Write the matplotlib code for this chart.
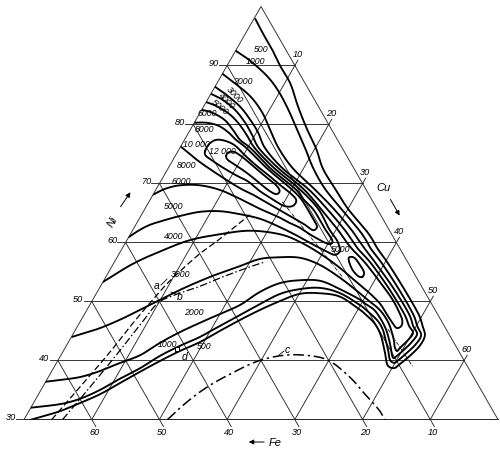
import numpy as np
import matplotlib
matplotlib.use('Agg')
from matplotlib import pyplot as plt
from matplotlib.patches import Polygon

# iso-lines, points given as (Ni %, Cu %), Fe = 100 - Ni - Cu
iso_500 = [(97.9, 0.2), (95.5, 2.5), (92.8, 5.2), (89.9, 7.9), (86.9, 10.9), (83.1, 13.9), (79.2, 17.2),
           (75.9, 20.2), (72.5, 22.9), (69.1, 26.4), (65.7, 30.0), (62.3, 34.2), (60.6, 36.1), (58.9, 37.8),
           (56.4, 40.6), (52.1, 45.1), (47.9, 49.3), (45.9, 50.9), (44.2, 52.1), (42.5, 52.2), (40.8, 51.6),
           (39.4, 50.8), (38.7, 50.3), (39.2, 49.1), (41.1, 47.8), (43.0, 46.5), (44.7, 45.2), (46.4, 43.5),
           (47.9, 41.4), (48.6, 40.3), (50.8, 36.3), (51.4, 33.0), (51.3, 30.1), (50.1, 27.8), (48.6, 25.6),
           (46.9, 23.5), (45.0, 21.4), (43.1, 19.4), (41.6, 17.2), (39.9, 15.1), (38.1, 13.1), (36.2, 11.1),
           (34.3, 9.1), (32.8, 6.9), (31.4, 4.6), (30.4, 2.1), (29.9, 0.9)]
iso_1000 = [(92.5, 0.0), (90.8, 3.0), (88.2, 6.8), (85.7, 9.7), (82.6, 12.7), (79.2, 15.7), (75.9, 18.6),
            (72.5, 21.5), (69.1, 24.9), (65.7, 29.0), (62.3, 33.2), (60.6, 35.1), (58.9, 36.8), (56.4, 39.7),
            (52.1, 44.3), (47.9, 48.5), (45.9, 50.1), (44.3, 51.5), (42.8, 51.5), (41.3, 50.9), (40.1, 50.3),
            (39.6, 49.9), (40.1, 49.0), (41.6, 48.0), (43.3, 46.8), (45.2, 45.4), (46.7, 43.9), (48.2, 41.8),
            (49.4, 39.9), (51.4, 36.0), (52.3, 32.6), (52.1, 29.7), (51.3, 27.2), (49.6, 25.1), (47.7, 23.0),
            (45.9, 21.0), (44.0, 19.0), (42.5, 16.8), (40.8, 14.7), (38.7, 12.8), (36.9, 10.7), (35.0, 8.7),
            (33.5, 6.5), (32.6, 4.0), (32.0, 0.0)]
iso_2000 = [(88.6, 0.0), (87.2, 2.3), (84.8, 6.0), (82.1, 9.1), (79.2, 11.7), (75.9, 14.7), (72.5, 18.5),
            (69.1, 23.3), (65.7, 27.9), (62.3, 32.1), (60.6, 34.0), (58.9, 35.9), (56.4, 38.8), (52.1, 43.6),
            (47.9, 47.9), (45.9, 49.5), (44.5, 50.8), (43.1, 50.7), (41.8, 50.2), (40.8, 49.7), (40.4, 49.4),
            (40.9, 48.9), (42.0, 48.2), (43.6, 47.1), (45.3, 45.8), (47.0, 44.2), (48.6, 42.4), (49.6, 40.6),
            (50.3, 39.5), (52.1, 35.6), (53.5, 32.0), (53.6, 28.9), (53.1, 26.2), (51.6, 24.0), (49.4, 22.2),
            (47.9, 20.0), (46.4, 17.8), (44.8, 15.6), (43.0, 13.6), (40.9, 11.7), (39.6, 9.4), (38.2, 7.1),
            (37.2, 4.7), (36.7, 2.0), (36.4, 0.0)]
iso_3000 = [(86.4, 0.0), (85.2, 2.1), (83.1, 5.3), (80.9, 7.9), (78.7, 10.2), (75.9, 12.7), (72.5, 17.0),
            (69.1, 22.4), (65.7, 26.9), (62.3, 31.1), (60.6, 33.0), (58.9, 34.9), (56.4, 38.1), (52.1, 42.9),
            (47.9, 47.2), (45.9, 48.9), (44.7, 50.1), (43.5, 50.0), (42.3, 49.5), (41.6, 49.3), (42.3, 48.6),
            (43.3, 48.0), (44.7, 47.0), (46.2, 45.8), (47.7, 44.3), (48.9, 42.8), (50.1, 40.9), (51.4, 38.9),
            (54.0, 34.7), (56.2, 30.6), (57.4, 27.1), (57.5, 24.0), (57.2, 21.2), (56.0, 18.9), (54.8, 16.5),
            (53.5, 14.3), (52.0, 12.1), (50.3, 10.0), (48.6, 7.9), (46.9, 5.7), (45.5, 3.5), (44.7, 1.7),
            (44.0, 0.1)]
iso_4000 = [(85.2, 0.0), (84.2, 2.2), (82.5, 4.9), (80.4, 7.4), (78.2, 9.6), (75.9, 11.8), (72.5, 16.4),
            (69.1, 21.7), (65.7, 26.0), (62.3, 30.1), (60.6, 32.0), (58.9, 34.0), (56.4, 37.3), (52.1, 42.3),
            (50.1, 44.5), (48.2, 46.3), (46.9, 47.4), (45.9, 47.8), (45.5, 47.3), (46.4, 46.2), (47.7, 44.8),
            (49.6, 42.8), (51.3, 40.5), (52.8, 38.2), (55.7, 33.8), (58.1, 29.7), (60.1, 25.7), (61.4, 22.1),
            (62.0, 17.4), (61.4, 13.2), (60.4, 9.3), (58.7, 6.2), (56.4, 2.9), (53.3, 0.0)]
iso_5000 = [(83.8, 0.0), (83.1, 1.9), (81.8, 4.4), (80.1, 6.7), (78.1, 8.9), (75.9, 11.2), (72.5, 15.8),
            (69.1, 21.1), (65.7, 25.6), (62.3, 28.9), (60.6, 30.8), (59.6, 31.7), (58.6, 32.4), (57.9, 32.0),
            (58.4, 30.6), (59.4, 28.4), (60.9, 25.3), (62.6, 21.5), (64.0, 17.9), (64.8, 14.5), (65.3, 11.3),
            (65.2, 8.4), (64.5, 5.8), (63.8, 3.9), (63.0, 2.1), (62.0, 0.9), (60.9, 0.0)]
iso_6000 = [(82.5, 0.0), (82.0, 1.8), (80.8, 4.2), (79.1, 6.3), (77.4, 8.2), (75.9, 10.6), (72.5, 15.2),
            (69.1, 20.5), (67.4, 22.5), (65.7, 24.8), (64.0, 26.6), (62.3, 28.3), (61.3, 29.4), (60.3, 30.4),
            (59.8, 30.5), (59.8, 29.9), (60.6, 28.1), (61.4, 26.5), (62.5, 24.5), (63.3, 22.6), (64.2, 20.7),
            (65.7, 17.0), (67.4, 13.2), (68.9, 9.5), (69.7, 6.1), (69.7, 3.2), (69.1, 1.3), (68.1, 0.0)]
iso_8000 = [(80.3, 0.0), (80.3, 1.8), (79.8, 3.8), (78.7, 5.8), (77.4, 7.6), (75.9, 10.0), (72.5, 14.7),
            (69.1, 19.9), (67.4, 22.2), (65.7, 24.0), (64.3, 25.4), (63.1, 26.6), (62.5, 27.0), (62.1, 26.6),
            (63.0, 25.0), (64.0, 23.0), (65.0, 21.0), (66.4, 18.2), (67.9, 15.2), (69.2, 12.3), (71.3, 8.3),
            (73.6, 4.2), (75.0, 2.0), (76.2, 0.1)]
iso_10000 = [(75.5, 4.0), (76.7, 4.0), (77.4, 4.7), (77.2, 6.2), (76.4, 8.0), (74.8, 10.2), (73.1, 12.7),
             (71.6, 15.1), (69.9, 17.7), (68.4, 20.1), (67.2, 21.6), (66.2, 21.6), (66.2, 20.3), (67.4, 17.9),
             (68.7, 15.5), (70.3, 13.0), (71.4, 10.6), (72.6, 8.2), (73.8, 6.0), (74.7, 4.5)]
iso_12000 = [(74.7, 7.5), (75.3, 7.6), (75.3, 8.5), (74.3, 10.3), (72.8, 12.6), (71.1, 15.2), (69.7, 17.4),
             (68.7, 18.4), (68.2, 18.1), (68.9, 16.6), (70.3, 14.4), (71.8, 12.0), (73.1, 9.7), (74.0, 8.1)]
island_5000 = [(54.2, 37.9), (55.0, 37.7), (56.3, 36.4), (57.4, 35.1), (57.5, 34.3), (56.8, 34.6),
               (55.4, 35.8), (54.3, 37.2)]

line_a = [(30.0, 4.1), (35.5, 5.5), (41.1, 6.9), (46.7, 8.0), (50.8, 9.0), (53.5, 9.8), (57.7, 11.7),
          (60.6, 13.6), (64.7, 16.0)]
line_b = [(30.0, 5.7), (35.5, 7.0), (41.1, 8.2), (46.5, 9.2), (49.7, 9.9), (51.1, 11.7), (52.6, 14.7),
          (54.3, 17.5), (55.9, 20.5), (56.7, 22.2)]
line_c = [(30.0, 21.2), (33.0, 22.6), (35.5, 24.3), (37.7, 26.6), (39.9, 29.6), (40.9, 33.1), (40.8, 36.9),
          (39.9, 40.2), (37.2, 44.5), (34.3, 48.2), (31.8, 51.4), (30.0, 53.3)]
ridge_1 = [(66.9, 19.7), (54.2, 34.9)]
ridge_2 = [(45.3, 46.1), (38.9, 53.0)]
point_d = (42.0, 16.6)

ni_ticks = [30, 40, 50, 60, 70, 80, 90]
cu_ticks = [10, 20, 30, 40, 50, 60]
fe_ticks = [60, 50, 40, 30, 20, 10]


def tern(pts):
    p = np.asarray(pts, float)
    ni, cu = p[:, 0], p[:, 1]
    return np.column_stack([cu + ni / 2.0, ni])


def smooth(xy, closed=False, n=10):
    p = np.asarray(xy, float)
    if closed:
        p = np.vstack([p[-1], p, p[0], p[1]])
    else:
        p = np.vstack([2 * p[0] - p[1], p, 2 * p[-1] - p[-2]])
    t = np.linspace(0, 1, n, endpoint=False)[:, None]
    out = []
    for i in range(1, len(p) - 2):
        p0, p1, p2, p3 = p[i - 1], p[i], p[i + 1], p[i + 2]
        out.append(0.5 * (2 * p1 + (-p0 + p2) * t + (2 * p0 - 5 * p1 + 4 * p2 - p3) * t ** 2
                          + (-p0 + 3 * p1 - 3 * p2 + p3) * t ** 3))
    out.append(p[-2][None])
    return np.vstack(out)


fig = plt.figure(figsize=(5.0, 4.52), dpi=100)
ax = fig.add_axes([0, 0, 1, 1])
ax.set_xlim(11.45, 85.30)
ax.set_ylim(24.66, 101.27)
ax.axis('off')

# pixel overlay for text / arrows
ov = fig.add_axes([0, 0, 1, 1], facecolor='none')
ov.set_xlim(0, 500)
ov.set_ylim(452, 0)
ov.axis('off')

gk = dict(color='#2a2a2a', lw=0.65)

# frame
tri = tern([(30, 0), (100, 0), (30, 70), (30, 0)])
ax.plot(tri[:, 0], tri[:, 1], **gk)
clip = Polygon(tri[:3], closed=True, transform=ax.transData, fill=False, lw=0)
ax.add_patch(clip)

fs_t = 6.6
for ni in ni_ticks:
    seg = tern([(ni, -1.2), (ni, 100 - ni)])
    ax.plot(seg[:, 0], seg[:, 1], **gk)
    p = tern([(ni + 0.45, -2.2)])[0]
    ax.text(p[0], p[1], str(ni), fontsize=fs_t, style='italic', family='Liberation Sans',
            ha='center', va='center')
for cu in cu_ticks:
    seg = tern([(100 - cu + 0.9, cu), (30, cu)])
    ax.plot(seg[:, 0], seg[:, 1], **gk)
    p = tern([(100 - cu + 2.0, cu - 0.6)])[0]
    ax.text(p[0], p[1], str(cu), fontsize=fs_t, style='italic', family='Liberation Sans',
            ha='center', va='center')
for fe in fe_ticks:
    seg = tern([(28.8, 70 - fe + 1.2), (100 - fe, 0)])
    ax.plot(seg[:, 0], seg[:, 1], **gk)
    p = tern([(27.9, 70 - fe + 1.4)])[0]
    ax.text(p[0], p[1], str(fe), fontsize=fs_t, style='italic', family='Liberation Sans',
            ha='center', va='center')

# iso-lines
for pts, closed in [(iso_500, False), (iso_1000, False), (iso_2000, False), (iso_3000, False),
                    (iso_4000, False), (iso_5000, False), (iso_6000, False), (iso_8000, False),
                    (iso_10000, True), (iso_12000, True), (island_5000, True)]:
    s = smooth(tern(pts), closed=closed)
    ln, = ax.plot(s[:, 0], s[:, 1], color='black', lw=1.35, solid_capstyle='round')
    ln.set_clip_path(clip)

s = smooth(tern(line_a))
ax.plot(s[:, 0], s[:, 1], color='black', lw=0.9, dashes=(5, 2.5))
s = smooth(tern(line_b))
ax.plot(s[:, 0], s[:, 1], color='black', lw=0.9, dashes=(6, 2, 1.2, 2))
s = smooth(tern(line_c))
ax.plot(s[:, 0], s[:, 1], color='black', lw=1.1, dashes=(7, 2.5, 1.5, 2.5))
for r in (ridge_1, ridge_2):
    s = tern(r)
    ax.plot(s[:, 0], s[:, 1], color='black', lw=0.55, dashes=(5, 2, 1, 2))
pd = tern([point_d])[0]
ax.plot(pd[0], pd[1], marker='s', ms=3.5, mfc='white', mec='black', mew=0.7)

# labels (pixel layout)
lab = dict(fontsize=6.3, style='italic', family='Liberation Sans', ha='center', va='center')
for txt, x, y, rot in [("500", 261, 49, 0), ("1000", 256, 61, 0), ("2000", 243, 81, 0),
                       ("3000", 234, 95, -45), ("4000", 227, 101, -45), ("5000", 220, 107, -40),
                       ("6000", 207, 114, 0), ("8000", 205, 130, 0), ("10 000", 196, 145, 0),
                       ("12 000", 222, 152, 0), ("8000", 187, 166, 0), ("6000", 181, 182, 0),
                       ("5000", 174, 207, 0), ("4000", 174, 237, 0), ("3000", 181, 275, 0),
                       ("2000", 194, 313, 0), ("1000", 168, 345, 0), ("500", 204, 347, 0),
                       ("5000", 341, 250, 0)]:
    ov.text(x, y, txt, rotation=rot, **lab)

let = dict(fontsize=7.5, style='italic', family='Liberation Sans', ha='center', va='center')
ov.text(157, 286, "a", **let)
ov.plot([161, 167], [286, 280], color='black', lw=0.6)
ov.text(180, 297, "b", **let)
ov.plot([171, 176], [293, 295], color='black', lw=0.6)
ov.text(287, 350, "c", **let)
ov.plot([279, 284], [356, 352], color='black', lw=0.6)
ov.text(185, 357, "d", **let)

ax_lab = dict(fontsize=8, style='italic', family='Liberation Sans', ha='center', va='center')
ov.text(113, 222, "Ni", rotation=60, **ax_lab)
ov.annotate('', xy=(132, 191), xytext=(119, 210),
            arrowprops=dict(arrowstyle='-|>', lw=0.7, color='black', mutation_scale=7))
ov.text(384, 188, "Cu", **ax_lab)
ov.annotate('', xy=(401, 219), xytext=(389, 198),
            arrowprops=dict(arrowstyle='-|>', lw=0.7, color='black', mutation_scale=7))
ov.text(275, 443, "Fe", **ax_lab)
ov.annotate('', xy=(246, 443), xytext=(267, 443),
            arrowprops=dict(arrowstyle='-|>', lw=0.7, color='black', mutation_scale=7))

fig.savefig('out.png', dpi=100, facecolor='white')
